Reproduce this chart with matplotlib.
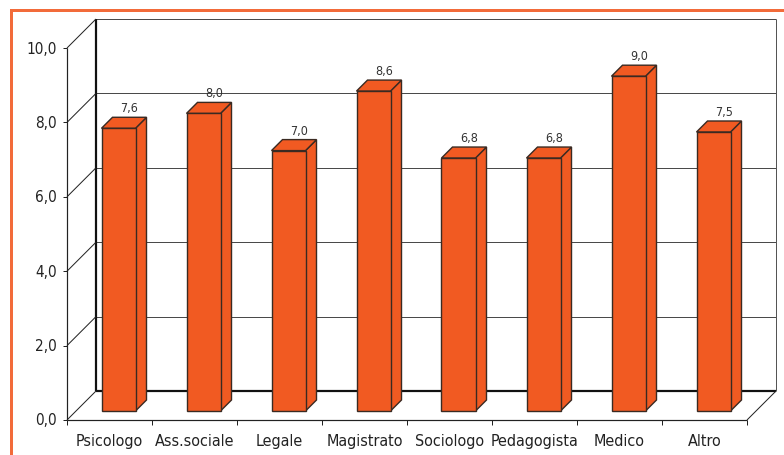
import matplotlib
matplotlib.use("Agg")
import matplotlib.pyplot as plt
from matplotlib import font_manager
from matplotlib.patches import Polygon, Rectangle

categories = ["Psicologo", "Ass.sociale", "Legale", "Magistrato",
              "Sociologo", "Pedagogista", "Medico", "Altro"]
values = [7.6, 8.0, 7.0, 8.6, 6.8, 6.8, 9.0, 7.5]
value_labels = ["7,6", "8,0", "7,0", "8,6", "6,8", "6,8", "9,0", "7,5"]
y_ticks = [0, 2, 4, 6, 8, 10]
y_tick_labels = ["0,0", "2,0", "4,0", "6,0", "8,0", "10,0"]

names = sorted({(f.name, f.stretch) for f in font_manager.fontManager.ttflist})
print(names)

plt.rcParams["font.family"] = ["DejaVu Sans"]
plt.rcParams["font.stretch"] = "condensed"

W, H, DPI = 784, 456, 100
fig = plt.figure(figsize=(W / DPI, H / DPI), dpi=DPI)
ax = fig.add_axes([67 / W, 35 / H, 680 / W, 372 / H])
n = len(categories)
ax.set_xlim(0, n)
ax.set_ylim(0, 10)
ax.axis("off")

# data units per screen pixel, so depth can be expressed in pixels
ux = (ax.get_xlim()[1] - ax.get_xlim()[0]) / ax.bbox.width
uy = (ax.get_ylim()[1] - ax.get_ylim()[0]) / ax.bbox.height

WALL = 29      # depth of the back wall
BAR0 = 9       # front face of the bars
BAR1 = 20      # back face of the bars
BAR_W = 0.4


def at(x, y, d):
    return (x + d * ux, y + d * uy)


def seg(p, q, color, lw, z=1):
    ax.plot([p[0], q[0]], [p[1], q[1]], color=color, lw=lw,
            solid_capstyle="butt", clip_on=False, zorder=z)


PX = 0.72  # one pixel in points

# back wall
for v in y_ticks[1:-1]:
    seg(at(0, v, WALL), at(n, v, WALL), "#4a4a4a", 1.0 * PX)
seg(at(0, 10, WALL), at(n, 10, WALL), "#4a4a4a", 1.0 * PX)
seg(at(0, 0, WALL), at(n, 0, WALL), "#111111", 2.2 * PX)
seg(at(0, 0, WALL), at(0, 10, WALL), "#111111", 2.2 * PX)
seg(at(n, 0, WALL), at(n, 10, WALL), "#555555", 1.0 * PX)

# side wall diagonals and front axis
for v in y_ticks:
    seg(at(0, v, 0), at(0, v, WALL), "#222222", 1.0 * PX)
seg(at(0, 0, 0), at(0, 10, 0), "#222222", 1.2 * PX)
seg(at(0, 0, 0), at(n, 0, 0), "#222222", 1.2 * PX)
seg(at(n, 0, 0), at(n, 0, WALL), "#222222", 1.0 * PX)

# tick marks
for v in y_ticks:
    seg(at(0, v, 0), (0 - 4 * ux, v), "#222222", 1.0 * PX)
for i in range(n + 1):
    seg((i, 0), (i, -5 * uy), "#222222", 1.0 * PX)

# tick labels
for v, lab in zip(y_ticks, y_tick_labels):
    ax.annotate(lab, (0, v), xytext=(-10 * PX, 0), textcoords="offset points",
                ha="right", va="center", fontsize=11, color="#222222",
                annotation_clip=False)
for i, c in enumerate(categories):
    ax.annotate(c, (i + 0.5, 0), xytext=(0, -21 * PX), textcoords="offset points",
                ha="center", va="center", fontsize=11.5, color="#222222",
                annotation_clip=False)

# bars
FACE = "#F15A22"
EDGE = "#3a2a22"
for i, v in enumerate(values):
    x0 = i + 0.5 - BAR_W / 2
    x1 = i + 0.5 + BAR_W / 2
    front = [at(x0, 0, BAR0), at(x1, 0, BAR0), at(x1, v, BAR0), at(x0, v, BAR0)]
    side = [at(x1, 0, BAR0), at(x1, 0, BAR1), at(x1, v, BAR1), at(x1, v, BAR0)]
    top = [at(x0, v, BAR0), at(x1, v, BAR0), at(x1, v, BAR1), at(x0, v, BAR1)]
    for poly in (side, top, front):
        ax.add_patch(Polygon(poly, closed=True, facecolor=FACE, edgecolor=EDGE,
                             lw=1.4 * PX, joinstyle="miter", clip_on=False,
                             zorder=3))
    ax.annotate(value_labels[i], at(i + 0.5, v, BAR1), xytext=(0, 3 * PX),
                textcoords="offset points", ha="center", va="bottom",
                fontsize=9, color="#333333", annotation_clip=False, zorder=4)

# orange frame (open to the right and bottom)
fig.patches.append(Rectangle((10.5 / W, -0.2), 1.5, 1.2 - 10.5 / H,
                             transform=fig.transFigure, fill=False,
                             edgecolor="#F26B3A", lw=3 * PX))

fig.savefig("out.png", dpi=DPI)
